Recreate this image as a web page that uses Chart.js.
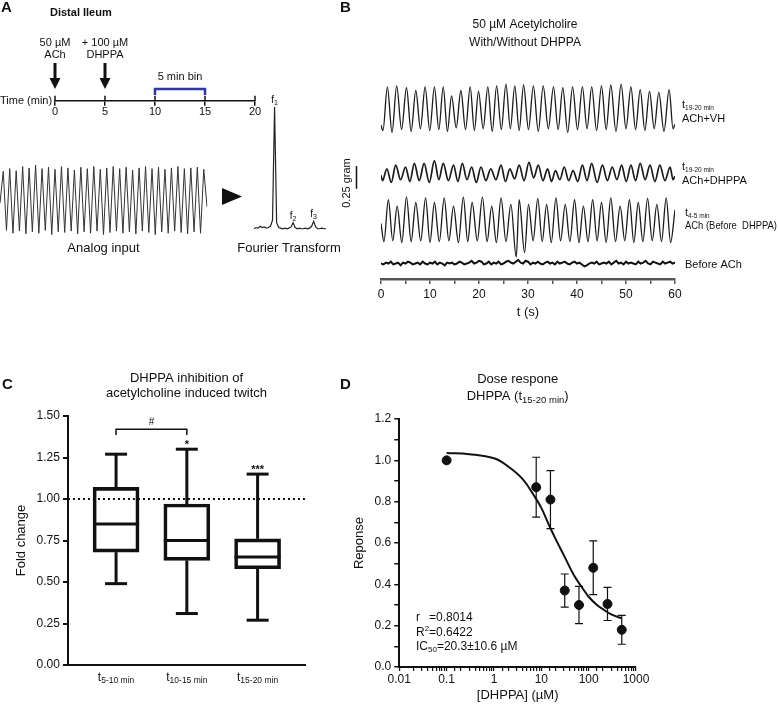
<!DOCTYPE html>
<html>
<head>
<meta charset="utf-8">
<script src="https://cdn.jsdelivr.net/npm/chart.js@4.4.1/dist/chart.umd.min.js"></script>
<style>
  body { margin: 0; background: #fff; }
  #fig { position: relative; width: 778px; height: 704px; overflow: hidden; }
  #fig canvas { position: absolute; }
</style>
</head>
<body>
<div id="fig">
  <canvas id="timeline" width="330" height="125" style="left:0px;top:0px"></canvas>
  <canvas id="analog" width="250" height="105" style="left:0px;top:155px"></canvas>
  <canvas id="fourier" width="122" height="170" style="left:228px;top:90px"></canvas>
  <canvas id="traces" width="448" height="330" style="left:330px;top:0px"></canvas>
  <canvas id="box" width="340" height="344" style="left:0px;top:360px"></canvas>
  <canvas id="dose" width="438" height="344" style="left:340px;top:360px"></canvas>
</div>
<script>
// ---- panel A: protocol timeline ----
const timeTicks = [0, 5, 10, 15, 20];
const events = [
  { t: 0, lines: ['50 µM', 'ACh'] },
  { t: 5, lines: ['+ 100 µM', 'DHPPA'] }
];
const binStart = 10, binEnd = 15;

// analog input: alternating trough / peak heights (arbitrary units)
const analogPeaks = [0.90,0.94,0.91,0.97,0.95,0.99,0.94,0.96,0.93,0.97,0.95,0.92,0.96,0.94,0.97,0.93,0.95,0.97,0.94,0.96,0.92,0.95,0.97,0.94,0.96,0.93,0.95,0.97,0.94,0.95,0.96,0.93];
const analogTroughs = [0.45,0.06,0.02,0.05,0.01,0.04,0.02,0.06,0.00,0.04,0.03,0.05,0.01,0.04,0.02,0.05,0.00,0.03,0.05,0.02,0.04,0.01,0.05,0.03,0.00,0.04,0.02,0.05,0.03,0.01,0.04,0.02,0.40];

// fourier spectrum amplitude per bin
const fftAmp = [0.01,0.02,0.015,0.03,0.02,0.025,0.015,0.02,0.03,0.08,1.0,0.06,0.02,0.015,0.01,0.015,0.01,0.015,0.025,0.06,0.02,0.01,0.015,0.01,0.01,0.015,0.01,0.015,0.03,0.07,0.025,0.01,0.01,0.015,0.01,0.01];
const fftPeakBins = [10, 19, 29];

// ---- panel B: force traces (gram, relative to trough) ----
const vhPeakT = [1.3,3.2,5.2,7.1,9.0,10.9,12.7,14.4,16.3,18.2,19.9,21.8,23.6,25.5,27.3,29.1,31.1,33.1,35.2,37.1,39.1,41.1,43.0,45.0,46.9,49.0,51.0,52.9,54.8,56.7,58.8];
const vhPeakV = [0.47,0.48,0.46,0.43,0.47,0.47,0.47,0.37,0.43,0.47,0.42,0.47,0.48,0.50,0.48,0.49,0.48,0.48,0.47,0.46,0.47,0.47,0.47,0.48,0.49,0.50,0.47,0.44,0.42,0.41,0.44];
const vhTroughT = [0.4,2.25,4.2,6.15,8.05,9.95,11.8,13.55,15.35,17.25,19.05,20.85,22.7,24.55,26.4,28.2,30.1,32.1,34.15,36.15,38.1,40.1,42.05,44.0,45.95,47.95,50.0,51.95,53.85,55.75,57.75,59.6];
const vhTroughV = [-0.01,-0.03,0,-0.02,0.01,-0.01,0,-0.02,0.02,0,-0.01,0.01,-0.02,0,0.01,-0.01,0,-0.02,0.01,0,-0.03,0,0.01,-0.01,0,-0.02,0.01,0,-0.01,0.01,-0.02,0.01];

const dhPeakT = [1.2,3.0,5.0,6.8,8.8,10.9,12.7,14.8,16.6,18.5,20.4,22.4,24.5,26.3,28.2,30.2,32.1,34.0,35.6,37.4,39.2,41.1,43.0,45.2,47.2,49.1,51.0,52.9,54.9,56.9,59.0];
const dhPeakV = [0.13,0.17,0.15,0.19,0.19,0.22,0.19,0.17,0.19,0.15,0.15,0.13,0.17,0.13,0.17,0.20,0.17,0.13,0.11,0.15,0.11,0.17,0.19,0.17,0.15,0.17,0.17,0.19,0.17,0.17,0.15];
const dhTroughT = [0.3,2.1,4.0,5.9,7.8,9.85,11.8,13.75,15.7,17.55,19.45,21.4,23.45,25.4,27.25,29.2,31.15,33.05,34.8,36.5,38.3,40.15,42.05,44.1,46.2,48.15,50.05,51.95,53.9,55.9,57.95,59.6];
const dhTroughV = [0,-0.02,0.01,-0.01,0,-0.02,0.01,0,-0.01,0.01,-0.02,0,0.01,-0.01,0.02,0,0.03,0,-0.01,0.01,0,-0.01,0,-0.02,0,0.01,-0.01,0,0.01,-0.01,0,0.01];

const b4PeakT = [1.5,3.3,5.2,7.1,9.1,10.9,12.9,14.8,16.8,18.6,20.7,22.6,24.5,26.5,28.2,30.1,32.0,33.8,35.7,37.6,39.5,41.3,43.2,45.0,46.9,48.8,50.7,52.5,54.4,56.3,58.2];
const b4PeakV = [0.46,0.39,0.49,0.43,0.48,0.43,0.48,0.39,0.49,0.43,0.49,0.39,0.48,0.41,0.46,0.41,0.475,0.41,0.48,0.41,0.46,0.39,0.46,0.43,0.48,0.39,0.46,0.43,0.475,0.41,0.48];
const b4TroughT = [0.6,2.4,4.25,6.15,8.1,10.0,11.9,13.85,15.8,17.7,19.65,21.65,23.55,25.5,27.6,29.3,31.05,32.9,34.75,36.65,38.55,40.4,42.25,44.1,45.95,47.85,49.75,51.6,53.45,55.35,57.25,59.1];
const b4TroughV = [0,0.01,-0.01,0,0.01,-0.01,0,0.01,-0.01,0,0.01,0,-0.01,0,-0.17,-0.12,0.01,0,-0.01,0.01,0,-0.01,0,0.01,-0.01,0,0.01,-0.01,0,0.01,0,-0.01];

// baseline before ACh, sampled every 0.5 s
const baNoise = [0.00,-0.01,0.01,0.00,0.02,-0.01,0.00,0.01,-0.02,0.01,0.00,0.02,0.01,-0.01,0.00,0.01,-0.01,0.02,0.00,-0.01,0.01,0.00,0.02,-0.01,0.01,0.00,-0.02,0.01,0.00,0.01,-0.01,0.00,0.02,0.01,-0.01,0.00,0.01,0.03,0.00,0.01,0.03,0.02,-0.01,0.00,0.02,-0.01,0.01,0.00,0.02,-0.01,0.00,0.02,0.03,0.01,0.00,0.02,0.04,0.01,0.00,0.03,0.02,-0.01,0.01,0.00,0.02,0.00,-0.01,0.01,0.02,0.00,0.01,-0.01,0.02,0.00,0.01,0.02,0.00,-0.01,0.01,0.02,0.00,0.01,-0.01,-0.03,-0.02,0.00,0.01,0.00,0.02,-0.01,0.00,0.01,0.00,0.02,-0.01,0.01,0.03,0.00,0.01,-0.01,0.02,0.00,0.01,0.00,-0.01,0.02,0.00,0.01,0.03,0.00,-0.01,0.02,0.01,0.00,-0.01,0.02,0.00,0.01,0.02,0.00,0.01];
const noiseStep = 0.5;
const timeTickLabels = [0, 10, 20, 30, 40, 50, 60];

// ---- panel C: box plot ----
const groups = ['5-10 min', '10-15 min', '15-20 min'];
const boxMin = [0.49, 0.31, 0.27];
const boxQ1  = [0.68, 0.63, 0.58];
const boxMed = [0.85, 0.75, 0.65];
const boxQ3  = [1.07, 0.97, 0.76];
const boxMax = [1.27, 1.30, 1.15];
const sigMarks = ['', '*', '***'];

// ---- panel D: dose response ----
const doses = [0.1, 7.8, 15.6, 31.25, 62.5, 125, 250, 500];
const resp  = [1.0, 0.87, 0.81, 0.37, 0.30, 0.48, 0.305, 0.18];
const sem   = [0, 0.145, 0.14, 0.08, 0.09, 0.13, 0.08, 0.07];
const fitX = [0.1, 0.3, 1, 2, 4, 7, 10, 15, 20, 30, 50, 75, 100, 150, 200, 300, 500];
const fitY = [1.036, 1.03, 1.01, 0.97, 0.91, 0.83, 0.77, 0.68, 0.62, 0.54, 0.44, 0.38, 0.34, 0.30, 0.28, 0.255, 0.235];

const FONT = "'Liberation Sans', Arial, sans-serif";
Chart.defaults.font.family = FONT;
Chart.defaults.font.size = 12;
Chart.defaults.color = '#111';
Chart.defaults.animation = false;
Chart.defaults.responsive = false;
Chart.defaults.plugins.legend.display = false;
Chart.defaults.plugins.tooltip.enabled = false;

function fnt(size, bold) { return (bold ? 'bold ' : '') + size + 'px ' + FONT; }

// draws a run of text pieces (main / subscript / superscript) on one baseline
function rich(ctx, parts, x, y, align) {
  let w = 0;
  parts.forEach(p => { ctx.font = fnt(p.s, p.b); p.w = ctx.measureText(p.t).width; w += p.w; });
  let cx = align === 'center' ? x - w / 2 : align === 'right' ? x - w : x;
  ctx.textAlign = 'left';
  ctx.textBaseline = 'alphabetic';
  parts.forEach(p => { ctx.font = fnt(p.s, p.b); ctx.fillText(p.t, cx, y + (p.dy || 0)); cx += p.w; });
}
function text(ctx, s, x, y, size, align, bold, maxW) {
  ctx.font = fnt(size, bold);
  ctx.textAlign = align || 'left';
  ctx.textBaseline = 'middle';
  if (maxW) ctx.fillText(s, x, y, maxW); else ctx.fillText(s, x, y);
}

// ---------- A: timeline ----------
new Chart(document.getElementById('timeline'), {
  type: 'scatter',
  data: { datasets: [] },
  options: {
    layout: { padding: { left: 55, right: 75, top: 60, bottom: 6 } },
    scales: {
      x: {
        type: 'linear', min: 0, max: 20,
        afterBuildTicks: (s) => { s.ticks = timeTicks.map(v => ({ value: v })); },
        ticks: { padding: 0, font: { size: 11 } },
        grid: { drawOnChartArea: false, tickLength: 5, color: '#111', lineWidth: 1.5 },
        border: { color: '#111', width: 1.5 }
      },
      y: { display: false, min: 0, max: 1 }
    }
  },
  plugins: [{
    id: 'timelineMarks',
    afterDraw(chart) {
      const ctx = chart.ctx, x = chart.scales.x, y0 = x.top;
      ctx.save();
      ctx.fillStyle = '#111'; ctx.strokeStyle = '#111';
      text(ctx, 'A', 1, 8, 15, 'left', true);
      text(ctx, 'Distal Ileum', 50, 13, 11, 'left', true);
      text(ctx, 'Time (min)', 0, y0, 11, 'left');
      ctx.lineWidth = 1.5;
      timeTicks.forEach(v => {
        const px = x.getPixelForValue(v);
        ctx.beginPath(); ctx.moveTo(px, y0 - 5); ctx.lineTo(px, y0); ctx.stroke();
      });
      events.forEach(e => {
        const px = x.getPixelForValue(e.t);
        ctx.lineWidth = 3;
        ctx.beginPath(); ctx.moveTo(px, 63); ctx.lineTo(px, 80); ctx.stroke();
        ctx.beginPath(); ctx.moveTo(px - 5.5, 78); ctx.lineTo(px + 5.5, 78); ctx.lineTo(px, 89); ctx.closePath(); ctx.fill();
        text(ctx, e.lines[0], px, 43, 11, 'center');
        text(ctx, e.lines[1], px, 55, 11, 'center');
      });
      const x1 = x.getPixelForValue(binStart), x2 = x.getPixelForValue(binEnd);
      ctx.strokeStyle = '#2f3a9c'; ctx.lineWidth = 2.5;
      ctx.beginPath(); ctx.moveTo(x1, 95); ctx.lineTo(x1, 89); ctx.lineTo(x2, 89); ctx.lineTo(x2, 95); ctx.stroke();
      text(ctx, '5 min bin', (x1 + x2) / 2, 77, 11, 'center');
      ctx.restore();
    }
  }]
});

// ---------- A: analog input ----------
const analogSeries = [];
analogTroughs.forEach((v, i) => { analogSeries.push(v); if (i < analogPeaks.length) analogSeries.push(analogPeaks[i]); });
new Chart(document.getElementById('analog'), {
  type: 'line',
  data: {
    labels: analogSeries.map((_, i) => i),
    datasets: [{ data: analogSeries, borderColor: '#333', borderWidth: 1, pointRadius: 0, tension: 0 }]
  },
  options: {
    layout: { padding: { left: 0, right: 43, top: 8, bottom: 24 } },
    scales: { x: { display: false }, y: { display: false, min: -0.02, max: 1.02 } }
  },
  plugins: [{
    id: 'analogText',
    afterDraw(chart) {
      const ctx = chart.ctx, a = chart.chartArea;
      ctx.save(); ctx.fillStyle = '#111';
      text(ctx, 'Analog input', (a.left + a.right) / 2, 93, 13, 'center');
      ctx.beginPath(); ctx.moveTo(222, 33); ctx.lineTo(242, 41.5); ctx.lineTo(222, 50); ctx.closePath(); ctx.fill();
      ctx.restore();
    }
  }]
});

// ---------- A: fourier transform ----------
new Chart(document.getElementById('fourier'), {
  type: 'line',
  data: {
    labels: fftAmp.map((_, i) => i),
    datasets: [{ data: fftAmp, borderColor: '#222', borderWidth: 1.2, pointRadius: 0, tension: 0 }]
  },
  options: {
    layout: { padding: { left: 26, right: 24, top: 17, bottom: 30 } },
    scales: { x: { display: false }, y: { display: false, min: 0, max: 1 } }
  },
  plugins: [{
    id: 'fftText',
    afterDraw(chart) {
      const ctx = chart.ctx, x = chart.scales.x, y = chart.scales.y;
      ctx.save(); ctx.fillStyle = '#111';
      fftPeakBins.forEach((b, i) => {
        const px = x.getPixelForValue(b), py = y.getPixelForValue(fftAmp[b]);
        rich(ctx, [{ t: 'f', s: 10 }, { t: String(i + 1), s: 7, dy: 2 }], px, py - 4, 'center');
      });
      text(ctx, 'Fourier Transform', 61, 158, 13, 'center');
      ctx.restore();
    }
  }]
});

// ---------- B: traces ----------
function buildTrace(pt, pv, tt, tv, start, end, offset) {
  const pts = [{ x: 0, y: start + offset }];
  pt.forEach((t, i) => pts.push({ x: t, y: pv[i] + offset }));
  tt.forEach((t, i) => pts.push({ x: t, y: tv[i] + offset }));
  pts.push({ x: 60, y: end + offset });
  return pts.sort((a, b) => a.x - b.x);
}
const offVH = 1.64, offDH = 1.08, offB4 = 0.41, offBA = 0.17;
const traceStyle = { borderColor: '#1a1a1a', borderWidth: 1.3, pointRadius: 0, cubicInterpolationMode: 'monotone' };
new Chart(document.getElementById('traces'), {
  type: 'line',
  data: {
    datasets: [
      Object.assign({ data: buildTrace(vhPeakT, vhPeakV, vhTroughT, vhTroughV, 0.05, 0.06, offVH) }, traceStyle),
      Object.assign({ data: buildTrace(dhPeakT, dhPeakV, dhTroughT, dhTroughV, 0.06, 0.05, offDH) }, traceStyle, { borderWidth: 1.7 }),
      Object.assign({ data: buildTrace(b4PeakT, b4PeakV, b4TroughT, b4TroughV, 0.2, 0.35, offB4) }, traceStyle),
      { data: baNoise.map((v, i) => ({ x: i * noiseStep, y: v + offBA })), borderColor: '#111', borderWidth: 2, pointRadius: 0, tension: 0 }
    ]
  },
  options: {
    layout: { padding: { left: 51, right: 103, top: 75, bottom: 10 } },
    scales: {
      x: {
        type: 'linear', min: 0, max: 60,
        ticks: { stepSize: 5, padding: 3, font: { size: 12 }, callback: v => timeTickLabels.includes(v) ? v : '' },
        grid: { drawOnChartArea: false, tickLength: 5, color: '#555', lineWidth: 1.5 },
        border: { color: '#555', width: 2.5 },
        title: { display: true, text: 't (s)', font: { size: 13 }, padding: 0 }
      },
      y: { display: false, min: 0, max: 2.24 }
    }
  },
  plugins: [{
    id: 'traceText',
    afterDraw(chart) {
      const ctx = chart.ctx, y = chart.scales.y;
      ctx.save(); ctx.fillStyle = '#111'; ctx.strokeStyle = '#111';
      text(ctx, 'B', 10, 8, 15, 'left', true);
      text(ctx, '50 µM Acetylcholire', 195, 25, 12, 'center');
      text(ctx, 'With/Without DHPPA', 195, 43, 12, 'center');
      rich(ctx, [{ t: 't', s: 11 }, { t: '19-20 min', s: 6.5, dy: 2 }], 352, 108);
      text(ctx, 'ACh+VH', 352, 119, 11);
      rich(ctx, [{ t: 't', s: 11 }, { t: '19-20 min', s: 6.5, dy: 2 }], 352, 170);
      text(ctx, 'ACh+DHPPA', 352, 181, 11);
      rich(ctx, [{ t: 't', s: 11 }, { t: '4-5 min', s: 6.5, dy: 2 }], 355, 216);
      text(ctx, 'ACh (Before  DHPPA)', 355, 226, 11, 'left', false, 92);
      text(ctx, 'Before ACh', 355, 265, 11);
      // 0.25 gram scale bar
      const yb0 = y.getPixelForValue(0.99), yb1 = y.getPixelForValue(0.99 + 0.25);
      ctx.lineWidth = 1.5;
      ctx.beginPath(); ctx.moveTo(26.5, yb0); ctx.lineTo(26.5, yb1); ctx.stroke();
      ctx.translate(17, 183); ctx.rotate(-Math.PI / 2);
      text(ctx, '0.25 gram', 0, 0, 11, 'center');
      ctx.restore();
    }
  }]
});

// ---------- C: box plot ----------
new Chart(document.getElementById('box'), {
  type: 'bar',
  data: {
    datasets: [{
      data: groups.map((g, i) => ({ x: i, y: [boxQ1[i], boxQ3[i]] })),
      borderColor: '#111', borderWidth: 3, backgroundColor: 'rgba(0,0,0,0)',
      borderSkipped: false, barThickness: 46
    }]
  },
  options: {
    layout: { padding: { left: 10, right: 35, top: 56, bottom: 31 } },
    scales: {
      x: {
        type: 'linear', min: -0.68, max: 2.67, offset: false,
        ticks: { display: false }, grid: { display: false, offset: false },
        border: { color: '#111', width: 2 }
      },
      y: {
        min: 0, max: 1.5,
        ticks: { stepSize: 0.25, font: { size: 12 }, callback: v => v.toFixed(2) },
        grid: { drawOnChartArea: false, tickLength: 5, color: '#111', lineWidth: 2 },
        border: { color: '#111', width: 2 },
        title: { display: true, text: 'Fold change', font: { size: 13 } }
      }
    }
  },
  plugins: [{
    id: 'boxParts',
    afterDatasetsDraw(chart) {
      const ctx = chart.ctx, x = chart.scales.x, y = chart.scales.y, a = chart.chartArea;
      ctx.save(); ctx.strokeStyle = '#111'; ctx.fillStyle = '#111';
      // reference line at 1.0
      ctx.lineWidth = 2; ctx.setLineDash([2, 3]);
      ctx.beginPath(); ctx.moveTo(a.left, y.getPixelForValue(1)); ctx.lineTo(a.right, y.getPixelForValue(1)); ctx.stroke();
      ctx.setLineDash([]);
      ctx.lineWidth = 3;
      groups.forEach((g, i) => {
        const px = x.getPixelForValue(i);
        const seg = (x1, y1, x2, y2) => { ctx.beginPath(); ctx.moveTo(x1, y1); ctx.lineTo(x2, y2); ctx.stroke(); };
        seg(px - 23, y.getPixelForValue(boxMed[i]), px + 23, y.getPixelForValue(boxMed[i]));
        seg(px, y.getPixelForValue(boxQ3[i]), px, y.getPixelForValue(boxMax[i]));
        seg(px, y.getPixelForValue(boxQ1[i]), px, y.getPixelForValue(boxMin[i]));
        seg(px - 11, y.getPixelForValue(boxMax[i]), px + 11, y.getPixelForValue(boxMax[i]));
        seg(px - 11, y.getPixelForValue(boxMin[i]), px + 11, y.getPixelForValue(boxMin[i]));
        if (sigMarks[i]) rich(ctx, [{ t: sigMarks[i], s: 11, b: true }], px, y.getPixelForValue(boxMax[i]) - 1, 'center');
        rich(ctx, [{ t: 't', s: 12 }, { t: g, s: 8.5, dy: 2 }], px, 321, 'center');
      });
      // bracket between first two groups
      const b0 = x.getPixelForValue(0), b1 = x.getPixelForValue(1);
      const yt = y.getPixelForValue(1.42), yl = y.getPixelForValue(1.385);
      ctx.lineWidth = 1.5;
      ctx.beginPath(); ctx.moveTo(b0, yl); ctx.lineTo(b0, yt); ctx.lineTo(b1, yt); ctx.lineTo(b1, yl); ctx.stroke();
      text(ctx, '#', (b0 + b1) / 2, yt - 7, 10, 'center');
      text(ctx, 'C', 2, 25, 15, 'left', true);
      const cx = (a.left + a.right) / 2;
      text(ctx, 'DHPPA inhibition of', cx, 18, 13, 'center');
      text(ctx, 'acetylcholine induced twitch', cx, 33, 13, 'center');
      ctx.restore();
    }
  }]
});

// ---------- D: dose response ----------
const decades = [0.01, 0.1, 1, 10, 100, 1000];
new Chart(document.getElementById('dose'), {
  type: 'scatter',
  data: {
    datasets: [
      { data: doses.map((d, i) => ({ x: d, y: resp[i] })), backgroundColor: '#111', borderColor: '#111', pointRadius: 4.5 },
      { type: 'line', data: fitX.map((d, i) => ({ x: d, y: fitY[i] })), borderColor: '#111', borderWidth: 2, pointRadius: 0, tension: 0.4 }
    ]
  },
  options: {
    layout: { padding: { left: 8, right: 142, top: 59, bottom: 1 } },
    scales: {
      x: {
        type: 'logarithmic', min: 0.01, max: 1000,
        ticks: { autoSkip: false, maxRotation: 0, padding: 1, font: { size: 12 },
                 callback: v => decades.includes(v) ? String(v) : '' },
        grid: { drawOnChartArea: false, tickLength: 4, color: '#111', lineWidth: 1.2 },
        border: { color: '#111', width: 2 },
        title: { display: true, text: '[DHPPA] (µM)', font: { size: 13 }, padding: 0 }
      },
      y: {
        min: 0, max: 1.2,
        ticks: { stepSize: 0.1, font: { size: 12 }, callback: v => Math.round(v * 10) % 2 === 0 ? v.toFixed(1) : '' },
        grid: { drawOnChartArea: false, tickLength: 5, color: '#111', lineWidth: 1.5 },
        border: { color: '#111', width: 2 },
        title: { display: true, text: 'Reponse', font: { size: 13 } }
      }
    }
  },
  plugins: [{
    id: 'doseParts',
    afterDatasetsDraw(chart) {
      const ctx = chart.ctx, x = chart.scales.x, y = chart.scales.y, a = chart.chartArea;
      ctx.save(); ctx.strokeStyle = '#111'; ctx.fillStyle = '#111'; ctx.lineWidth = 1.2;
      doses.forEach((d, i) => {
        if (!sem[i]) return;
        const px = x.getPixelForValue(d), lo = y.getPixelForValue(resp[i] - sem[i]), hi = y.getPixelForValue(resp[i] + sem[i]);
        ctx.beginPath();
        ctx.moveTo(px, lo); ctx.lineTo(px, hi);
        ctx.moveTo(px - 4, lo); ctx.lineTo(px + 4, lo);
        ctx.moveTo(px - 4, hi); ctx.lineTo(px + 4, hi);
        ctx.stroke();
      });
      text(ctx, 'D', 0, 25, 15, 'left', true);
      const cx = (a.left + a.right) / 2;
      text(ctx, 'Dose respone', cx, 19, 13, 'center');
      rich(ctx, [{ t: 'DHPPA (t', s: 13 }, { t: '15-20 min', s: 9.5, dy: 3 }, { t: ')', s: 13 }], cx, 40, 'center');
      rich(ctx, [{ t: 'r', s: 12 }], 76, 261);
      rich(ctx, [{ t: '=0.8014', s: 12 }], 89, 261);
      rich(ctx, [{ t: 'R', s: 12 }, { t: '2', s: 8, dy: -5 }], 76, 276);
      rich(ctx, [{ t: '=0.6422', s: 12 }], 89, 276);
      rich(ctx, [{ t: 'IC', s: 12 }, { t: '50', s: 8, dy: 2 }, { t: '=20.3±10.6 µM', s: 12 }], 76, 290);
      ctx.restore();
    }
  }]
});
</script>
</body>
</html>
